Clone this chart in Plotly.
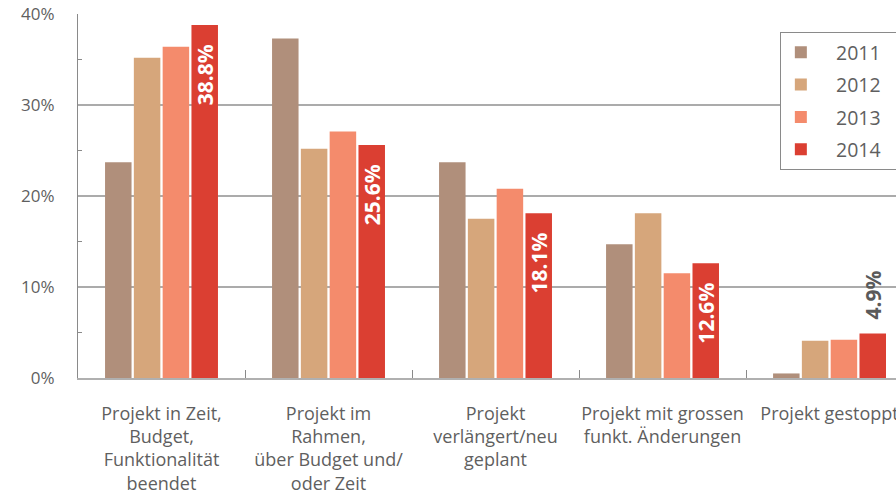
import plotly.graph_objects as go

categories = [
    "Projekt in Zeit,<br>Budget,<br>Funktionalität<br>beendet",
    "Projekt im<br>Rahmen,<br>über Budget und/<br>oder Zeit",
    "Projekt<br>verlängert/neu<br>geplant",
    "Projekt mit grossen<br>funkt. Änderungen",
    "Projekt gestoppt",
]
years = ["2011", "2012", "2013", "2014"]
v2011 = [23.7, 37.3, 23.7, 14.7, 0.5]
v2012 = [35.2, 25.2, 17.5, 18.1, 4.1]
v2013 = [36.4, 27.1, 20.8, 11.5, 4.2]
v2014 = [38.8, 25.6, 18.1, 12.6, 4.9]
colors = ["#B08F7B", "#D6A67B", "#F48B6C", "#DB3F32"]
series = [v2011, v2012, v2013, v2014]

FONT = "Open Sans"
NB = "\u00a0"
positions = ["inside", "inside", "inside", "inside", "outside"]

fig = go.Figure()
for i, (yr, vals, col) in enumerate(zip(years, series, colors)):
    kw = {}
    if yr == "2014":
        labels = []
        for v, p in zip(vals, positions):
            s = f"{v:.1f}%"
            labels.append(s + NB * 3 if p == "inside" else NB * 2 + s)
        kw = dict(
            text=labels,
            textposition=positions,
            insidetextanchor="end",
            textangle=-90,
            constraintext="none",
            textfont=dict(family=FONT, size=21, color="white", weight="bold"),
            outsidetextfont=dict(family=FONT, size=21, color="#5a5a5a", weight="bold"),
            cliponaxis=False,
        )
    fig.add_trace(go.Bar(
        x=categories, y=vals, name=NB * 3 + yr + NB * 2, marker=dict(color=col, line=dict(width=0)),
        legendgroup=yr, hoverinfo="skip", **kw,
    ))

fig.update_layout(
    width=896, height=493,
    margin=dict(l=78, r=0, t=14, b=115, autoexpand=False),
    paper_bgcolor="white", plot_bgcolor="white",
    barmode="group", bargap=0.31, bargroupgap=0.08,
    font=dict(family=FONT, color="#5f5f5f"),
    legend=dict(
        x=0.858, y=0.9505, xanchor="left", yanchor="top",
        bordercolor="#8a8a8a", borderwidth=1, bgcolor="white",
        font=dict(family=FONT, size=19.5, color="#5f5f5f"),
        tracegroupgap=4,
    ),
    showlegend=True,
)
fig.update_xaxes(
    range=[-0.5, 4.398], showline=True, linecolor="#b0b0b0", linewidth=2,
    tickson="boundaries", ticks="inside", ticklen=8, tickcolor="#8a8a8a",
    tickangle=0,
    tickfont=dict(family=FONT, size=18, color="#5f5f5f"),
    ticklabelstandoff=18, showgrid=False, automargin=False,
)
fig.update_yaxes(
    range=[0, 40], dtick=10, ticksuffix="%", showline=True, linecolor="#8a8a8a", linewidth=1,
    showgrid=True, gridcolor="#ababab", gridwidth=1.5, zeroline=False,
    ticks="", tickfont=dict(family=FONT, size=17, color="#5f5f5f"),
    ticklabelstandoff=19, automargin=False,
    minor=dict(dtick=5, ticks="inside", ticklen=4, tickcolor="#8a8a8a", showgrid=False),
)

fig.write_html(
    "out.html",
    config={"displayModeBar": False},
    post_script="document.body.style.margin='0';document.body.style.overflow='hidden';",
)
